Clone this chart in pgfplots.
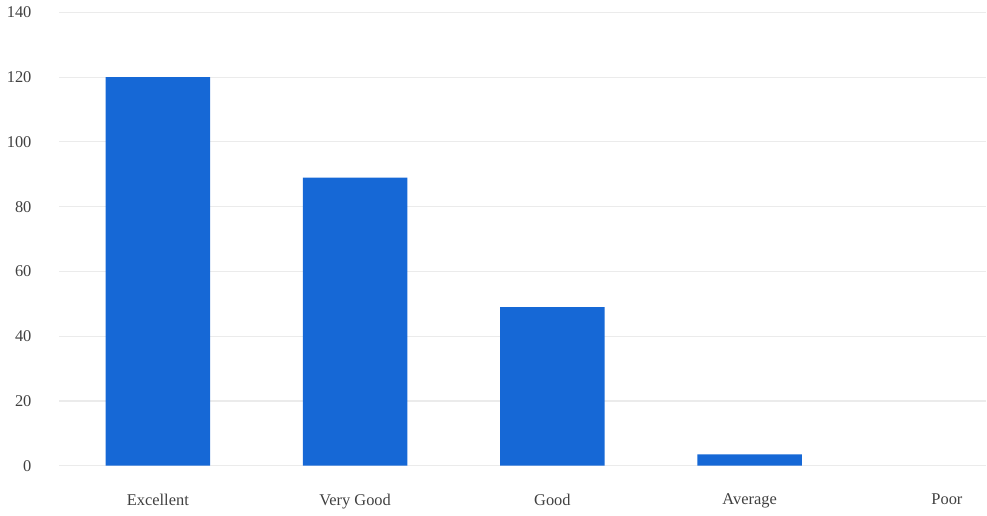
\documentclass[border=0pt]{standalone}
\usepackage{pgfplots}
\pgfplotsset{compat=1.18}
\usepackage{fontspec}
\setmainfont{Liberation Serif}
\definecolor{barblue}{RGB}{22,104,214}
\definecolor{gridc}{RGB}{235,235,235}
\begin{document}
\begin{tikzpicture}
\begin{axis}[
  scale only axis,
  width=452pt, height=221pt,
  ymin=0, ymax=140,
  ytick={0,20,...,140},
  xmin=-0.5, xmax=4.2,
  xtick={0,1,2,3,4},
  xticklabels={Excellent,Very Good,Good,Average,Poor},
  axis line style={draw=none},
  tick style={draw=none},
  ymajorgrids,
  grid style={gridc, line width=0.6pt},
  ybar,
  bar width=0.53,
  /pgf/bar shift=0pt,
  /pgf/number format/assume math mode=true,
  ticklabel style={font=\fontsize{8}{9}\selectfont, text=black!75},
  xticklabel style={yshift=-6pt},
  yticklabel style={xshift=-10pt},
]
\addplot[fill=barblue, draw=none] coordinates {(0,120) (1,89) (2,49) (3,3.5)};
\end{axis}
\end{tikzpicture}
\end{document}
